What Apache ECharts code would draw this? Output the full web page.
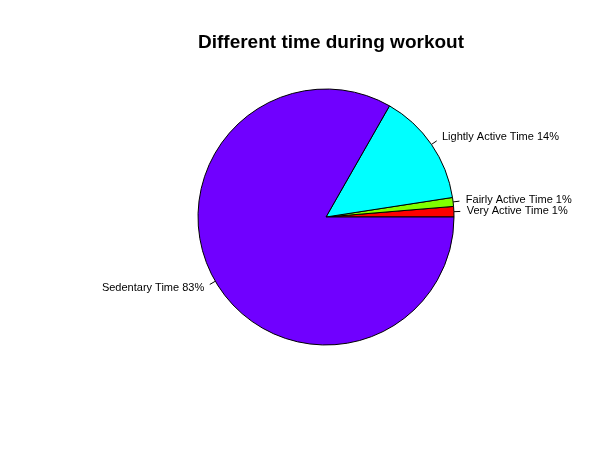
<!DOCTYPE html>
<html>
<head>
<meta charset="utf-8">
<script src="https://cdn.jsdelivr.net/npm/echarts@6/dist/echarts.min.js"></script>
<style>html,body{margin:0;padding:0;background:#fff;}#c{width:614px;height:454px;}</style>
</head>
<body>
<div id="c"></div>
<script>
const categories = ['Very Active Time', 'Fairly Active Time', 'Lightly Active Time', 'Sedentary Time'];
const values = [1.32, 1.12, 14.3, 83.26];
const colors = ['#FF0000', '#80FF00', '#00FFFF', '#7000FF'];
const titleText = 'Different time during workout';

const chart = echarts.init(document.getElementById('c'), null, {renderer: 'canvas'});
const R = 128;
chart.setOption({
  animation: false,
  backgroundColor: '#ffffff',
  title: {
    text: titleText,
    left: 326,
    textAlign: 'center',
    top: 28,
    textStyle: {fontFamily: 'Liberation Sans, Arial, sans-serif', fontWeight: 'bold', fontSize: 19, color: '#000'}
  },
  series: [{
    type: 'pie',
    center: [326, 217],
    radius: R,
    startAngle: 0,
    clockwise: false,
    avoidLabelOverlap: false,
    silent: true,
    data: categories.map((c, i) => ({name: c, value: values[i], itemStyle: {color: colors[i]}})),
    itemStyle: {borderColor: '#000', borderWidth: 1},
    label: {
      show: true,
      position: 'outside',
      formatter: p => p.name + ' ' + Math.round(p.percent) + '%',
      fontFamily: 'Liberation Sans, Arial, sans-serif',
      fontSize: 11,
      lineHeight: 10,
      color: '#000',
      distanceToLabelLine: 0
    },
    labelLayout: {hideOverlap: false},
    labelLine: {
      show: true,
      length: R * 0.1,
      length2: 0,
      smooth: false,
      lineStyle: {color: '#000', width: 1, type: [R * 0.05, 1000]}
    },
    emphasis: {disabled: true}
  }]
});
</script>
</body>
</html>
